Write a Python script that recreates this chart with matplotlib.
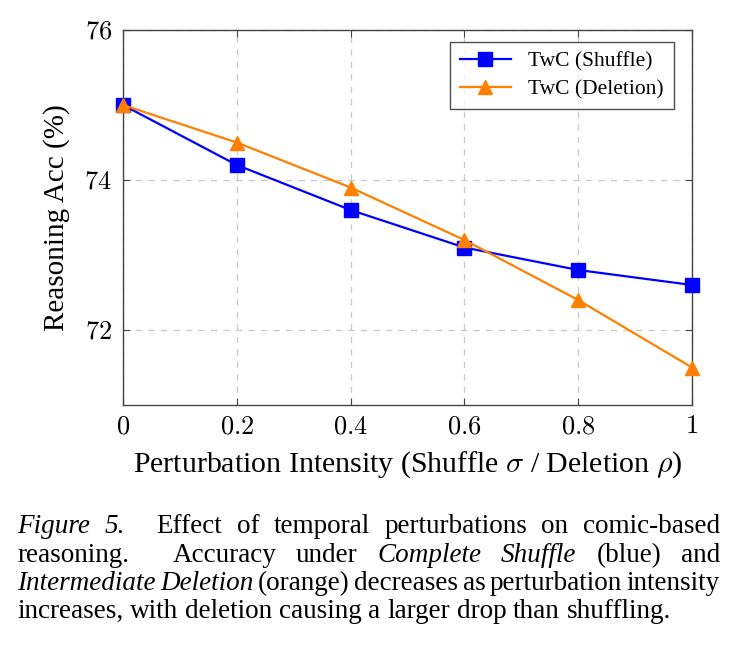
import matplotlib
matplotlib.use("Agg")
import matplotlib.pyplot as plt

intensity = [0, 0.2, 0.4, 0.6, 0.8, 1.0]
tick_labels = ["0", "0.2", "0.4", "0.6", "0.8", "1"]
acc_shuffle = [75.0, 74.2, 73.6, 73.1, 72.8, 72.6]
acc_deletion = [75.0, 74.5, 73.9, 73.2, 72.4, 71.5]
y_ticks = [72, 74, 76]

plt.rcParams["font.family"] = ["Liberation Serif", "DejaVu Serif"]
plt.rcParams["mathtext.fontset"] = "cm"

fig = plt.figure(figsize=(7.36, 6.45), dpi=100)
ax = fig.add_axes([123 / 736, 1 - 405 / 645, (692 - 123) / 736, (405 - 30) / 645])

ax.plot(intensity, acc_shuffle, color="#0000ff", lw=1.6, marker="s", ms=10,
        label="TwC (Shuffle)", zorder=3, clip_on=False)
ax.plot(intensity, acc_deletion, color="#ff8000", lw=1.6, marker="^", ms=10,
        label="TwC (Deletion)", zorder=3, clip_on=False)

ax.set_xlim(0, 1)
ax.set_ylim(71, 76)
ax.set_xticks(intensity)
ax.set_xticklabels(["$%s$" % t for t in tick_labels])
ax.set_yticks(y_ticks)
ax.set_yticklabels(["$%d$" % t for t in y_ticks])
ax.tick_params(direction="in", top=True, right=True, length=5, labelsize=19,
               color="#444444", pad=8)
ax.grid(True, ls=(0, (5, 5)), color="#c8c8c8", lw=0.9)
for s in ax.spines.values():
    s.set_color("#444444")
    s.set_linewidth(1.0)

ax.set_xlabel(r"Perturbation Intensity (Shuffle $\sigma$ / Deletion $\rho$)", fontsize=21.5, labelpad=8)
ax.set_ylabel("Reasoning Acc (%)", fontsize=21, labelpad=10)

leg = ax.legend(loc="upper right", fontsize=15.5, frameon=True, fancybox=False,
                edgecolor="#222222", borderpad=0.45, handlelength=2.4,
                labelspacing=0.35, borderaxespad=0, bbox_to_anchor=(0.968, 0.968))
leg.get_frame().set_linewidth(1.0)

# caption, justified like the paper (wider gap after a sentence end)
caption = [
    [("Figure", True), ("5.", True), ("Effect", False), ("of", False), ("temporal", False),
     ("perturbations", False), ("on", False), ("comic-based", False)],
    [("reasoning.", False), ("Accuracy", False), ("under", False), ("Complete", True),
     ("Shuffle", True), ("(blue)", False), ("and", False)],
    [("Intermediate", True), ("Deletion", True), ("(orange)", False), ("decreases", False),
     ("as", False), ("perturbation", False), ("intensity", False)],
    [("increases,", False), ("with", False), ("deletion", False), ("causing", False),
     ("a", False), ("larger", False), ("drop", False), ("than", False), ("shuffling.", False)],
]
cap_size = 19.5
cap_left = 17 / 736
cap_right = 720 / 736
line_y = [533, 562, 590, 618]
renderer = fig.canvas.get_renderer()
for i, words in enumerate(caption):
    y = 1 - line_y[i] / 645
    texts = []
    for w, it in words:
        t = fig.text(0, y, w, fontsize=cap_size, style="italic" if it else "normal",
                     va="baseline", ha="left")
        texts.append(t)
    widths = [t.get_window_extent(renderer).width / fig.bbox.width for t in texts]
    weights = [2.2 if w.endswith(".") else 1.0 for w, _ in words[:-1]]
    if i < len(caption) - 1:
        unit = (cap_right - cap_left - sum(widths)) / sum(weights)
    else:
        unit = 0.25 * cap_size / 72 * 100 / fig.bbox.width
    x = cap_left
    for k, (t, wd) in enumerate(zip(texts, widths)):
        t.set_x(x)
        if k < len(weights):
            x += wd + unit * weights[k]

fig.savefig("out.png", dpi=100)
